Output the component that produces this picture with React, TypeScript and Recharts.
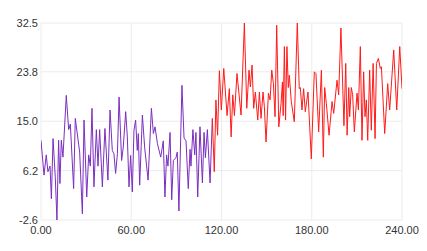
import { CartesianGrid, Line, LineChart, XAxis, YAxis } from "recharts";

const purpleX = [
  0, 2.0, 3.5, 4.6, 6.0, 6.9, 8.0, 9.5, 10.6, 11.7, 12.6, 13.5, 14.6, 16.8, 18.4, 19.5, 21.7, 22.8,
  25.7, 27.5, 28.6, 30.4, 31.7, 32.8, 33.9, 35.2, 36.8, 37.9, 39.0, 40.8, 42.5, 44.5, 45.9, 47.4,
  48.5, 49.6, 50.8, 51.9, 53.6, 54.7, 56.3, 57.4, 58.5, 59.6, 60.7, 61.8, 62.9, 64.0, 64.7, 65.6,
  67.4, 68.9, 71.2, 73.4, 74.7, 75.8, 77.4, 79.6, 81.3, 82.4, 83.5, 84.4, 85.8, 86.9, 88.0, 89.7,
  90.6, 91.7, 93.7, 95.1, 96.4, 97.9, 99.1, 99.7, 101.0, 102.2, 103.0, 104.2, 105.7, 107.3, 108.4,
  109.3, 110.6, 112.4, 113.9,
];
const purpleY = [
  11.6, 5.4, 9, 6, 7, 1.2, 11.9, 5, -2.6, 11.6, 3.9, 11.6, 8.6, 19.6, 13.5, 14.5, 3, 15.5,
  9.5, -1.5, 15.2, 1.5, 9, 7, 17.3, 3.3, 13.5, 7, 13.5, 3.3, 13.7, 4.5, 17, 9.8,
  9.2, 5.7, 9.2, 19.3, 8, 10.4, 16.7, 12.2, 3.3, 8.9, 2.4, 13.4, 15.2, 9.8, 12.8, 3.6,
  16.1, 10.4, 4.5, 17.3, 12.8, 14, 11, 8.6, 11.5, 1.5, 9, 7, 13, 1, 8, 8.5,
  9.5, -1, 21.4, 12, 11.5, 3, 10, 7, 13.5, 9, 13, 1.5, 14, 4, 13,
  8.5, 13.5, 4, 15.5,
];

const redX = [
  113.9, 115.2, 116.3, 117.4, 118.6, 119.9, 121.5, 123.7, 125.2, 126.4, 127.5, 128.6, 130.3, 133.0,
  135.2, 136.8, 138.3, 139.2, 140.3, 141.4, 142.5, 144.1, 145.2, 146.3, 147.6, 148.5, 149.6, 151.2,
  152.3, 153.4, 154.5, 155.6, 156.7, 158.1, 159.6, 160.5, 161.0, 161.8, 162.6, 163.5, 164.4, 165.1,
  166.4, 168.4, 170.4, 171.7, 172.4, 173.5, 174.6, 175.7, 177.5, 179.7, 181.7, 182.8, 184.6, 186.4,
  187.7, 188.6, 189.7, 191.5, 193.5, 194.6, 196.8, 197.9, 199.4, 201.4, 202.6, 203.5, 204.6, 205.2,
  206.3, 207.2, 208.3, 210.1, 211.0, 212.3, 213.4, 214.5, 215.4, 216.3, 217.2, 218.5, 219.6, 220.8,
  222.1, 223.0, 224.3, 225.6, 226.3, 228.5, 230.5, 231.8, 234.5, 236.5, 238.5, 240,
];
const redY = [
  15.5, 6, 18.8, 12.5, 24, 17, 24.4, 16, 20.8, 12.2, 19.7, 16, 23.5, 16.1,
  32.5, 17.3, 24.1, 21.1, 25, 17.3, 20.2, 15.2, 20.2, 15.5, 20.2, 17.6, 11.3, 20,
  18.8, 24.1, 21.7, 15.8, 32.1, 14, 18.2, 22, 16, 28.3, 15.2, 28.3, 21, 23.2,
  18.5, 14.9, 32.5, 20.8, 21, 17, 20.8, 16.7, 20.2, 8.3, 23.8, 23.5, 13.1, 24.1,
  8.6, 21, 18.2, 12.5, 18.5, 16.4, 22.3, 19.7, 31.6, 14.2, 25.3, 12.5, 21, 15.8,
  21, 19.7, 13.1, 20, 17, 28.3, 11.6, 23.8, 15.8, 18.8, 11.6, 24.1, 13.4, 25.3,
  11.9, 25.3, 26.2, 24.4, 24.7, 12.8, 21.7, 17, 27.7, 17, 28.3, 20.8,
];

const xTicks = [0, 60, 120, 180, 240];
const yTicks = [-2.6, 6.2, 15.0, 23.8, 32.5];

const purpleData = purpleX.map((x, i) => ({ x, y: purpleY[i] }));
const redData = redX.map((x, i) => ({ x, y: redY[i] }));

const tickStyle = { fontSize: 11, fill: "#333", fontFamily: "Liberation Sans, Arial, sans-serif" };

export default function App() {
  return (
    <div style={{ position: "absolute", left: 0, top: 0 }}>
      <LineChart width={427} height={251} margin={{ top: 23, right: 25, left: 0, bottom: 11 }}>
        <CartesianGrid stroke="#ececec" />
        <XAxis
          type="number"
          dataKey="x"
          domain={[0, 240]}
          ticks={xTicks}
          tick={tickStyle}
          tickFormatter={(v: number) => v.toFixed(2)}
          axisLine={false}
          tickLine={false}
          tickSize={4}
          height={20}
          allowDataOverflow
        />
        <YAxis
          type="number"
          dataKey="y"
          domain={[-2.6, 32.5]}
          ticks={yTicks}
          tick={tickStyle}
          tickFormatter={(v: number) => v.toFixed(1)}
          axisLine={false}
          tickLine={false}
          tickSize={0}
          tickMargin={3}
          width={41}
          allowDataOverflow
        />
        <Line
          data={purpleData}
          dataKey="y"
          type="linear"
          stroke="#7b2fbf"
          strokeWidth={1}
          dot={false}
          isAnimationActive={false}
        />
        <Line
          data={redData}
          dataKey="y"
          type="linear"
          stroke="#ff1a1a"
          strokeWidth={1}
          dot={false}
          isAnimationActive={false}
        />
      </LineChart>
    </div>
  );
}
